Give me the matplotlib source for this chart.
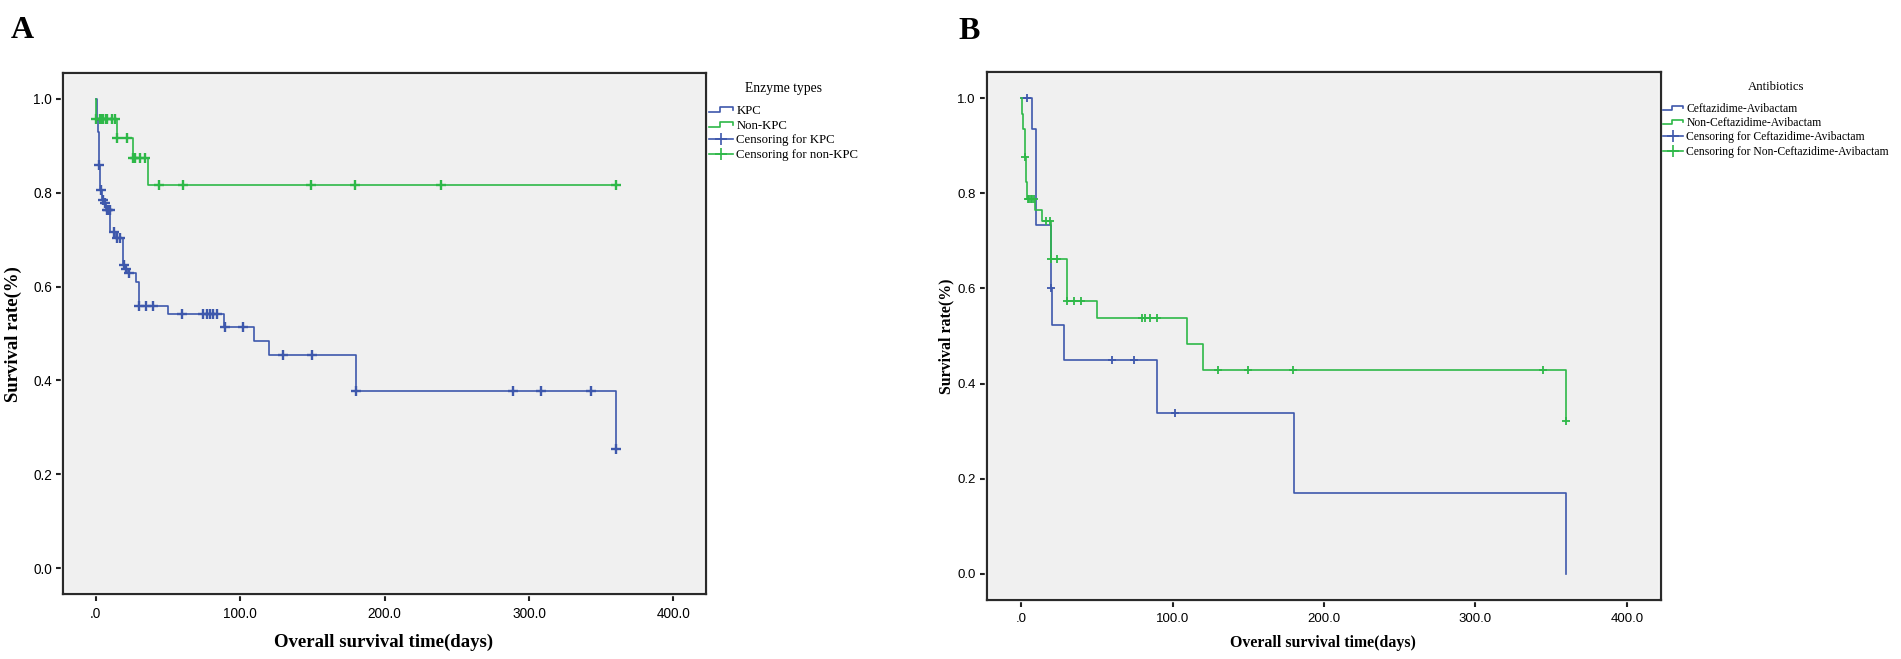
import numpy as np
import matplotlib
matplotlib.use("Agg")
import matplotlib.pyplot as plt
from matplotlib.lines import Line2D
from matplotlib.legend_handler import HandlerBase
from matplotlib.patches import Rectangle

# ---------------- data ----------------
# Panel A: enzyme types
kpc_t = [0, 1.0, 2.0, 2.6, 3.4, 4.6, 6.0, 7.6, 10.0, 14.0, 19.3, 20.5, 22.5, 28.0, 30.0,
         50.0, 89.0, 110.0, 120.0, 180.0, 360.0]
kpc_s = [1.0, 0.955, 0.93, 0.858, 0.806, 0.785, 0.777, 0.764, 0.716, 0.703, 0.645, 0.638,
         0.628, 0.61, 0.559, 0.541, 0.513, 0.484, 0.454, 0.378, 0.253]
kpc_cens = [2.6, 3.6, 5.0, 6.6, 7.8, 8.4, 9.9, 12.8, 15.1, 17.0, 19.5, 21.0, 23.2, 30.0,
            34.8, 39.6, 59.7, 74.7, 77.0, 79.3, 81.6, 83.9, 89.5, 102.0, 129.7, 150.0,
            180.0, 289.0, 308.5, 342.6, 360.0]

nonkpc_t = [0, 0.5, 14.7, 25.8, 36.2, 360.0]
nonkpc_s = [1.0, 0.957, 0.917, 0.874, 0.8155, 0.8155]
nonkpc_cens = [0.5, 3.1, 4.5, 5.4, 7.0, 7.7, 11.2, 13.5, 14.9, 21.6, 26.0, 27.4, 30.8,
               34.3, 44.2, 60.4, 149.2, 179.3, 238.8, 360.0]

# Panel B: antibiotics
caz_t = [0, 7.0, 10.0, 19.8, 20.5, 28.5, 90.0, 180.0, 360.0]
caz_s = [1.0, 0.935, 0.733, 0.60, 0.524, 0.45, 0.339, 0.169, 0.0]
caz_cens = [4.1, 20.0, 59.7, 74.8, 101.8]

noncaz_t = [0, 0.8, 1.5, 2.5, 3.5, 4.2, 8.9, 14.0, 19.6, 30.0, 49.8, 109.5, 120.1, 360.0]
noncaz_s = [1.0, 0.967, 0.935, 0.876, 0.823, 0.787, 0.765, 0.741, 0.662, 0.573, 0.538,
            0.484, 0.429, 0.321]
noncaz_cens = [2.8, 4.5, 5.5, 6.5, 7.5, 8.5, 16.7, 19.0, 20.0, 23.8, 30.3, 34.8, 39.7,
               79.9, 82.1, 84.9, 89.8, 129.7, 149.8, 179.8, 344.6, 360.0]

x_ticks = [0, 100, 200, 300, 400]
x_ticklabels = [".0", "100.0", "200.0", "300.0", "400.0"]
y_ticks = [0.0, 0.2, 0.4, 0.6, 0.8, 1.0]
y_ticklabels = ["0.0", "0.2", "0.4", "0.6", "0.8", "1.0"]

labels_A = ["KPC", "Non-KPC", "Censoring for KPC", "Censoring for non-KPC"]
labels_B = ["Ceftazidime-Avibactam", "Non-Ceftazidime-Avibactam",
            "Censoring for Ceftazidime-Avibactam", "Censoring for Non-Ceftazidime-Avibactam"]

BLUE = "#3E58AC"
GREEN = "#2EB848"
BG = "#f0f0f0"
SERIF = ["Liberation Serif", "DejaVu Serif"]
SANS = ["Liberation Sans", "DejaVu Sans"]
NARROW = ["Liberation Sans Narrow", "Liberation Sans", "DejaVu Sans"]

W, H = 1901, 659
fig = plt.figure(figsize=(W / 100, H / 100), dpi=100)


def surv_at(times, surv, t):
    times = np.asarray(times)
    surv = np.asarray(surv)
    idx = np.searchsorted(times, t, side="right") - 1
    return surv[idx]


class HandlerStep(HandlerBase):
    def create_artists(self, legend, orig_handle, xdescent, ydescent, width, height,
                       fontsize, trans):
        x0, y0 = -xdescent, -ydescent
        xs = [x0, x0 + 0.45 * width, x0 + 0.45 * width, x0 + width, x0 + width]
        ys = [y0 + 0.2 * height, y0 + 0.2 * height, y0 + 0.75 * height,
              y0 + 0.75 * height, y0 + 0.45 * height]
        ln = Line2D(xs, ys, color=orig_handle.get_color(), lw=1.2, transform=trans)
        return [ln]


class StepHandle:
    def __init__(self, color):
        self.color = color

    def get_color(self):
        return self.color


def draw_panel(ax, curves, tick_font, tick_size, lw=1.2, ms=6, mew=1.4):
    ax.set_facecolor(BG)
    for (t, s, cens, col) in curves:
        ax.step(t, s, where="post", color=col, lw=lw, zorder=3)
        cy = surv_at(t, s, cens)
        ax.plot(cens, cy, ls="none", marker="+", ms=ms, mew=mew, color=col, zorder=4)
    ax.set_xlim(-22.5, 422.5)
    ax.set_ylim(-0.055, 1.055)
    ax.set_xticks(x_ticks)
    ax.set_xticklabels(x_ticklabels, family=tick_font, fontsize=tick_size)
    ax.set_yticks(y_ticks)
    ax.set_yticklabels(y_ticklabels, family=tick_font, fontsize=tick_size)
    ax.tick_params(direction="out", length=5, width=1.5, color="#222222", pad=3)
    ax.tick_params(axis="x", pad=4)
    for sp in ax.spines.values():
        sp.set_linewidth(1.6)
        sp.set_color("#2a2a2a")
    ax.add_patch(Rectangle((0, 0), 1, 1, transform=ax.transAxes, fill=False,
                           ec="white", lw=3.2, zorder=2.4, clip_on=False))


# ---------------- Panel A ----------------
axA = fig.add_axes([63 / W, 1 - 594 / H, (706 - 63) / W, (594 - 73) / H])
draw_panel(axA, [(kpc_t, kpc_s, kpc_cens, BLUE),
                 (nonkpc_t, nonkpc_s, nonkpc_cens, GREEN)], SANS, 9.8,
           lw=1.2, ms=7, mew=1.7)

# ---------------- Panel B ----------------
axB = fig.add_axes([987 / W, 1 - 600 / H, (1661 - 987) / W, (600 - 72) / H])
draw_panel(axB, [(caz_t, caz_s, caz_cens, BLUE),
                 (noncaz_t, noncaz_s, noncaz_cens, GREEN)], NARROW, 9.5,
           lw=1.2, ms=5.5, mew=1.3)

# ---------------- Legends ----------------
def make_legend(labels, title, anchor_px, fsize, tsize, hlen, lspace):
    handles = [StepHandle(BLUE), StepHandle(GREEN),
               Line2D([], [], color=BLUE, lw=1.2, marker="+", ms=8, mew=1.2),
               Line2D([], [], color=GREEN, lw=1.2, marker="+", ms=8, mew=1.2)]
    leg = fig.legend(handles, labels, title=title, loc="upper left",
                     bbox_to_anchor=(anchor_px[0] / W, 1 - anchor_px[1] / H),
                     frameon=False, borderpad=0, borderaxespad=0, handlelength=hlen,
                     handletextpad=0.25, labelspacing=lspace, numpoints=1,
                     handler_map={StepHandle: HandlerStep()},
                     prop={"family": SERIF, "size": fsize},
                     title_fontproperties={"family": SERIF, "size": tsize})
    leg._legend_box.sep = 7
    return leg

make_legend(labels_A, "Enzyme types", (709, 82), 9.2, 9.8, 1.9, 0.22)
make_legend(labels_B, "Antibiotics", (1663, 81), 8.4, 9.2, 1.75, 0.2)

# ---------------- axis labels & panel letters ----------------
fig.text(13 / W, 1 - 334 / H, "Survival rate(%)", rotation=90, ha="center", va="center",
         family=SERIF, fontsize=13.5, fontweight="bold")
fig.text(384 / W, 1 - 642 / H, "Overall survival time(days)", ha="center", va="center",
         family=SERIF, fontsize=13.5, fontweight="bold")
fig.text(946 / W, 1 - 336 / H, "Survival rate(%)", rotation=90, ha="center", va="center",
         family=SERIF, fontsize=11.4, fontweight="bold")
fig.text(1323 / W, 1 - 643 / H, "Overall survival time(days)", ha="center", va="center",
         family=SERIF, fontsize=11.4, fontweight="bold")

fig.text(11 / W, 1 - 38 / H, "A", ha="left", va="baseline", family=SERIF,
         fontsize=23, fontweight="bold")
fig.text(958 / W, 1 - 39 / H, "B", ha="left", va="baseline", family=SERIF,
         fontsize=23, fontweight="bold")

fig.savefig("out.png", dpi=100, facecolor="white")
